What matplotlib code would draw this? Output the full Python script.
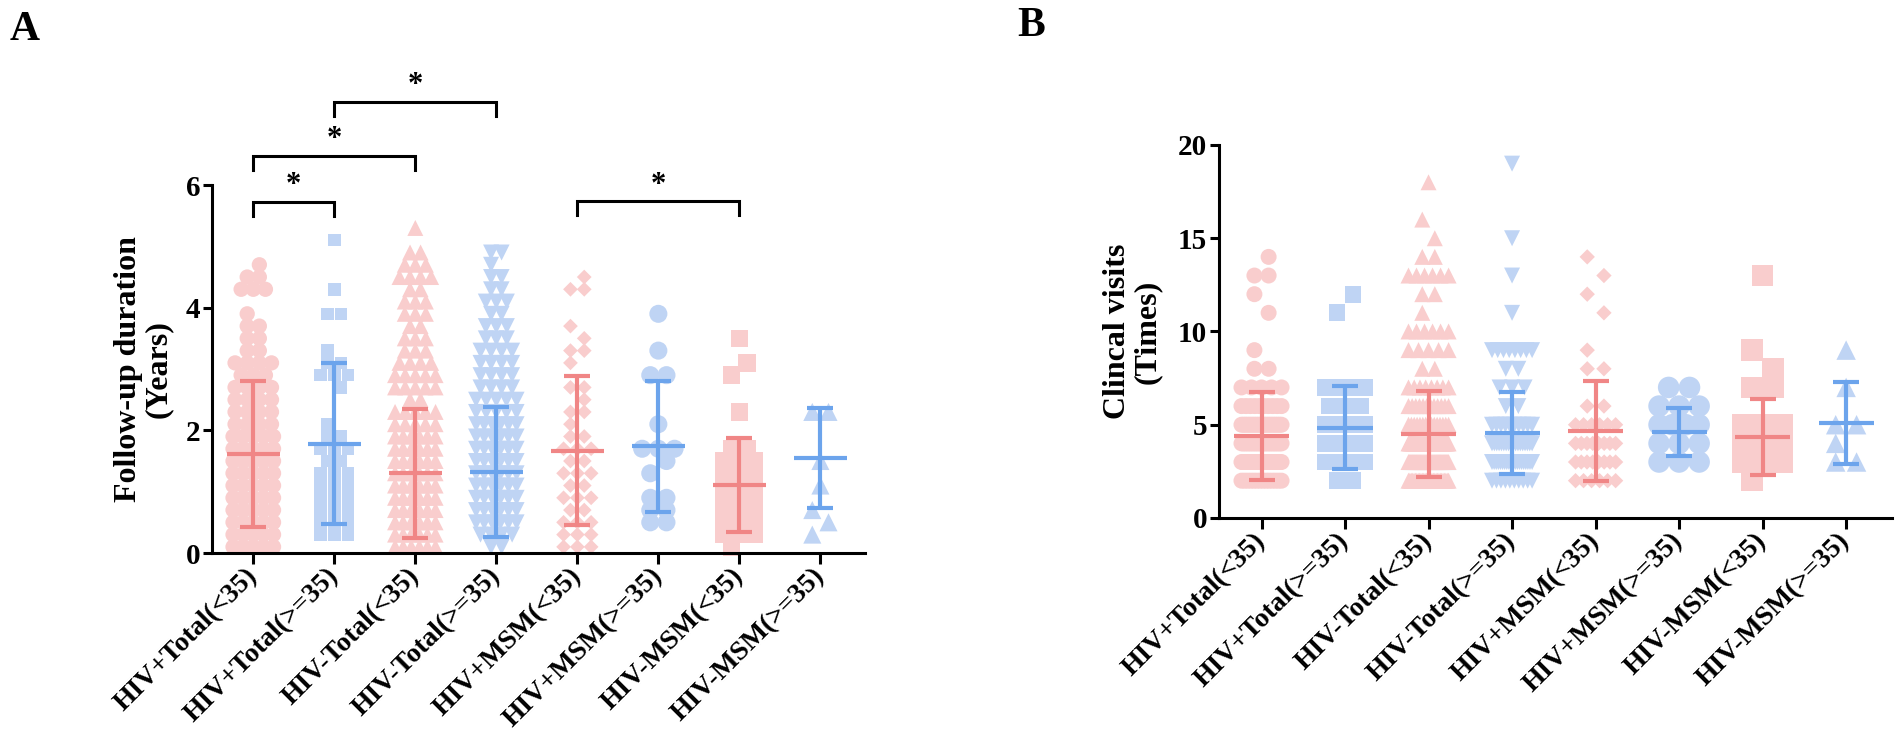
import numpy as np
import matplotlib.pyplot as plt

plt.rcParams['font.family'] = ['Liberation Serif', 'DejaVu Serif']
plt.rcParams['font.weight'] = 'bold'
plt.rcParams['axes.labelweight'] = 'bold'

groups = ['HIV+Total(<35)', 'HIV+Total(>=35)', 'HIV-Total(<35)', 'HIV-Total(>=35)',
          'HIV+MSM(<35)', 'HIV+MSM(>=35)', 'HIV-MSM(<35)', 'HIV-MSM(>=35)']

# ---- panel A: follow-up duration (years), number of points per row ----
years_levels = [0.1, 0.3, 0.5, 0.7, 0.9, 1.1, 1.3, 1.5, 1.7, 1.9, 2.1, 2.3, 2.5, 2.7,
                2.9, 3.1, 3.3, 3.5, 3.7, 3.9, 4.1, 4.3, 4.5, 4.7, 4.9, 5.1, 5.3]
fu_pos_tot_lt35 = [5, 5, 5, 5, 5, 5, 5, 5, 5, 5, 4, 4, 4, 4, 3, 4, 2, 2, 2, 1, 0, 3, 2, 1, 0, 0, 0]
fu_pos_tot_ge35 = [0, 3, 3, 3, 3, 3, 3, 2, 3, 2, 1, 0, 0, 1, 3, 2, 1, 0, 0, 2, 0, 1, 0, 0, 0, 1, 0]
fu_neg_tot_lt35 = [6, 6, 6, 6, 6, 6, 6, 6, 6, 6, 5, 5, 2, 5, 5, 4, 3, 3, 2, 3, 3, 2, 4, 3, 2, 0, 1]
fu_neg_tot_ge35 = [2, 4, 6, 6, 6, 6, 6, 6, 6, 6, 6, 5, 5, 4, 4, 4, 4, 3, 3, 2, 3, 2, 2, 1, 2, 0, 0]
fu_pos_msm_lt35 = [3, 3, 3, 2, 3, 2, 3, 2, 3, 2, 1, 2, 1, 2, 0, 1, 2, 1, 1, 0, 0, 2, 1, 0, 0, 0, 0]
fu_pos_msm_ge35 = [0, 0, 2, 2, 2, 0, 1, 1, 3, 0, 1, 0, 0, 0, 2, 0, 1, 0, 0, 1, 0, 0, 0, 0, 0, 0, 0]
fu_neg_msm_lt35 = [1, 3, 3, 3, 3, 3, 3, 3, 2, 0, 0, 1, 0, 0, 1, 1, 0, 1, 0, 0, 0, 0, 0, 0, 0, 0, 0]
fu_neg_msm_ge35 = [0, 1, 1, 1, 0, 1, 0, 1, 0, 0, 0, 2, 0, 0, 0, 0, 0, 0, 0, 0, 0, 0, 0, 0, 0, 0, 0]
fu_mean = [1.61, 1.78, 1.30, 1.32, 1.67, 1.74, 1.11, 1.55]
fu_sd = [1.19, 1.31, 1.05, 1.06, 1.21, 1.07, 0.76, 0.81]

# ---- panel B: clinical visits (times), number of points per integer value ----
visit_levels = [2, 3, 4, 5, 6, 7, 8, 9, 10, 11, 12, 13, 14, 15, 16, 17, 18, 19]
cv_pos_tot_lt35 = [14, 22, 25, 20, 10, 5, 2, 1, 0, 1, 1, 2, 1, 0, 0, 0, 0, 0]
cv_pos_tot_ge35 = [2, 6, 8, 8, 3, 4, 0, 0, 0, 1, 1, 0, 0, 0, 0, 0, 0, 0]
cv_neg_tot_lt35 = [30, 40, 40, 15, 12, 8, 2, 5, 6, 1, 2, 6, 2, 1, 1, 0, 1, 0]
cv_neg_tot_ge35 = [10, 20, 18, 10, 2, 3, 2, 8, 0, 1, 0, 1, 0, 1, 0, 0, 0, 1]
cv_pos_msm_lt35 = [6, 8, 8, 6, 2, 0, 2, 1, 0, 1, 1, 1, 1, 0, 0, 0, 0, 0]
cv_pos_msm_ge35 = [0, 3, 3, 4, 3, 2, 0, 0, 0, 0, 0, 0, 0, 0, 0, 0, 0, 0]
cv_neg_msm_lt35 = [1, 7, 6, 5, 0, 2, 1, 1, 0, 0, 0, 1, 0, 0, 0, 0, 0, 0]
cv_neg_msm_ge35 = [0, 2, 1, 2, 0, 1, 0, 1, 0, 0, 0, 0, 0, 0, 0, 0, 0, 0]
cv_mean = [4.38, 4.85, 4.52, 4.58, 4.68, 4.62, 4.34, 5.10]
cv_sd = [2.35, 2.25, 2.30, 2.20, 2.68, 1.30, 2.06, 2.20]

# significance brackets in panel A
sig_pairs = [(0, 1), (0, 2), (1, 3), (4, 6)]

pink = '#F9CDCD'
blue = '#BFD4F4'
red_bar = '#F08686'
blue_bar = '#6CA4EC'
fills = [pink, blue] * 4
bars = [red_bar, blue_bar] * 4
markers = ['o', 's', '^', 'v', 'D', 'o', 's', '^']


def swarm(levels, counts, step, wmax):
    # rows centred on the column; lone points next to an occupied row are nudged sideways
    xs, ys = [], []
    side = -1
    for k, (lv, n) in enumerate(zip(levels, counts)):
        if n == 0:
            continue
        if n == 1:
            below = counts[k - 1] if k > 0 else 0
            above = counts[k + 1] if k + 1 < len(counts) else 0
            off = [side * step * 0.5] if (below or above) else [0.0]
            side = -side
        else:
            half = min((n - 1) / 2 * step, wmax)
            off = np.linspace(-half, half, n)
        xs.extend(off)
        ys.extend([lv] * n)
    return np.array(xs), np.array(ys)


def dot_panel(ax, levels, data, means, sds, msizes, steps, wmax, ylim, yticks, ylabel):
    for i, counts in enumerate(data):
        xs, ys = swarm(levels, counts, steps[i], wmax)
        ax.scatter(i + xs, ys, marker=markers[i], s=msizes[i] ** 2, color=fills[i],
                   edgecolors='none', clip_on=False, zorder=1)
        ax.errorbar(i, means[i], yerr=sds[i], fmt='none', ecolor=bars[i],
                    elinewidth=3, capsize=9.5, capthick=3, zorder=3)
        ax.plot([i - 0.33, i + 0.33], [means[i], means[i]], color=bars[i], lw=3,
                solid_capstyle='butt', zorder=3)
    ax.set_ylim(*ylim)
    ax.set_xlim(-0.51, 7.55)
    ax.set_yticks(yticks)
    ax.set_xticks(range(len(groups)))
    ax.set_xticklabels(groups, rotation=45, ha='right', va='center',
                       rotation_mode='anchor', fontsize=20)
    ax.tick_params(axis='x', length=8, width=2.2, pad=6)
    ax.tick_params(axis='y', length=6.5, width=2.2, pad=2, labelsize=21)
    for side in ['top', 'right']:
        ax.spines[side].set_visible(False)
    for side in ['left', 'bottom']:
        ax.spines[side].set_linewidth(2.2)
    ax.set_ylabel(ylabel, fontsize=23, linespacing=1.05)


fig = plt.figure(figsize=(19.01, 7.47), dpi=100)

axA = fig.add_axes([0.1115, 0.2597, 0.3435, 0.4926])
dataA = [fu_pos_tot_lt35, fu_pos_tot_ge35, fu_neg_tot_lt35, fu_neg_tot_ge35,
         fu_pos_msm_lt35, fu_pos_msm_ge35, fu_neg_msm_lt35, fu_neg_msm_ge35]
dot_panel(axA, years_levels, dataA, fu_mean, fu_sd,
          msizes=[11, 9, 11.5, 11.5, 7.5, 13, 12.5, 13],
          steps=[0.15, 0.17, 0.13, 0.13, 0.17, 0.2, 0.19, 0.2], wmax=0.25,
          ylim=(0, 6), yticks=[0, 2, 4, 6], ylabel='Follow-up duration\n(Years)')
axA.yaxis.set_label_coords(-0.06, 0.5)

bracket_y = [5.73, 6.48, 7.36, 5.74]
for (g1, g2), yb in zip(sig_pairs, bracket_y):
    axA.plot([g1, g1, g2, g2], [yb - 0.23, yb, yb, yb - 0.23], color='black', lw=2.2,
             clip_on=False, solid_joinstyle='miter')
    axA.text((g1 + g2) / 2, yb + 0.02, '*', ha='center', va='bottom', fontsize=22,
             fontweight='bold')

axB = fig.add_axes([0.6412, 0.3066, 0.3541, 0.4993])
dataB = [cv_pos_tot_lt35, cv_pos_tot_ge35, cv_neg_tot_lt35, cv_neg_tot_ge35,
         cv_pos_msm_lt35, cv_pos_msm_ge35, cv_neg_msm_lt35, cv_neg_msm_ge35]
dot_panel(axB, visit_levels, dataB, cv_mean, cv_sd,
          msizes=[11.5, 12, 11.5, 11.5, 7.8, 15.5, 15.5, 14],
          steps=[0.17, 0.19, 0.15, 0.15, 0.2, 0.25, 0.25, 0.25], wmax=0.24,
          ylim=(0, 20), yticks=[0, 5, 10, 15, 20], ylabel='Clincal visits\n(Times)')
axB.yaxis.set_label_coords(-0.085, 0.5)

fig.text(0.005, 0.985, 'A', fontsize=30, fontweight='bold', va='top', ha='left')
fig.text(0.535, 0.99, 'B', fontsize=30, fontweight='bold', va='top', ha='left')

fig.savefig('out.png', dpi=100)
